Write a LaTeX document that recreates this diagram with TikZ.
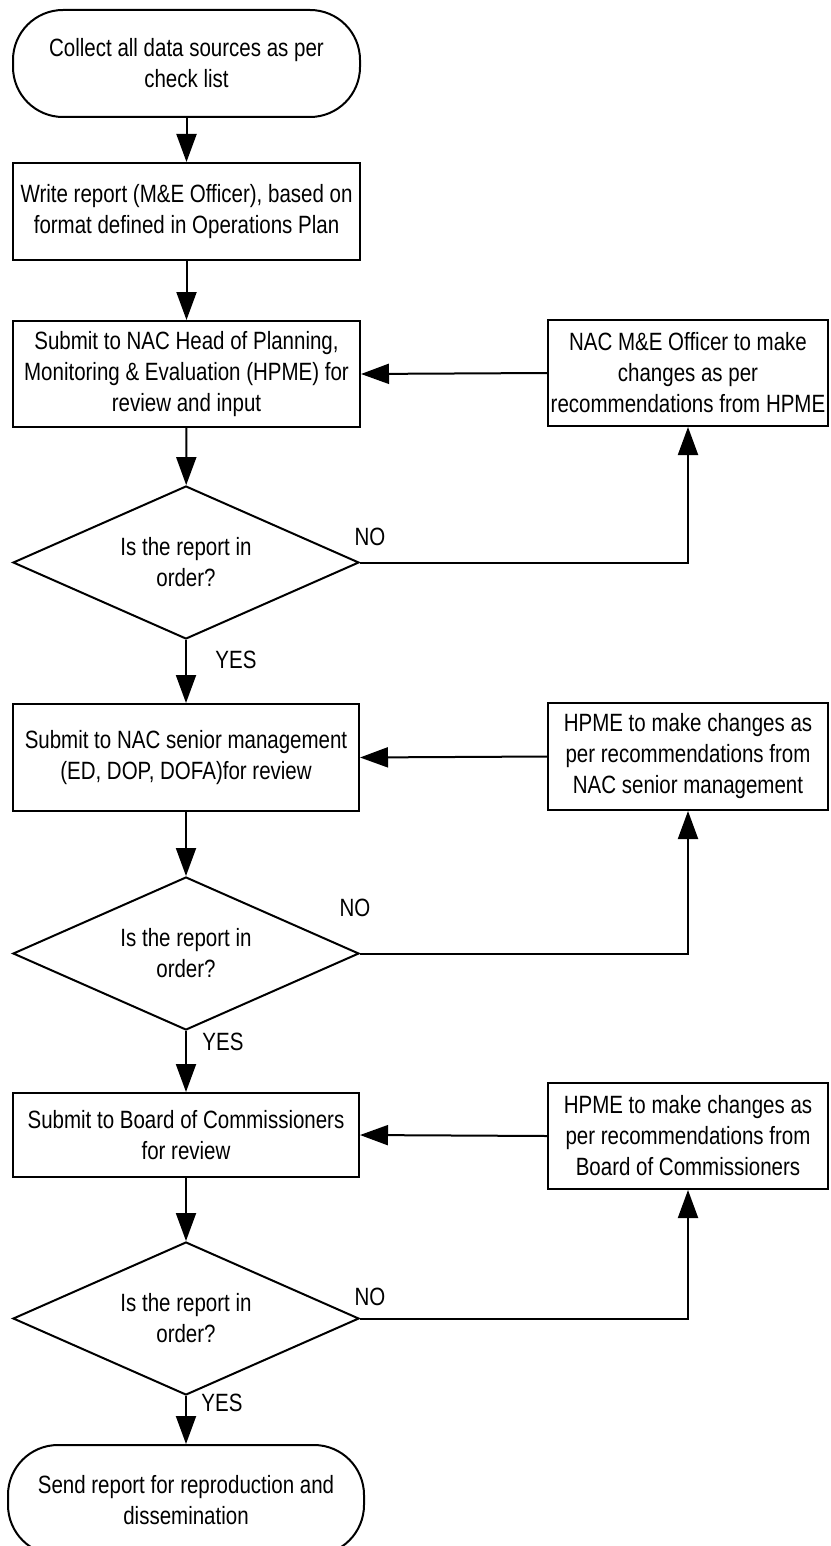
\documentclass[tikz,border=0pt]{standalone}
\usepackage{fontspec}
\setmainfont{Liberation Sans}[FakeStretch=0.82]
\usepackage{xcolor}
\usepackage{tikz}
\usetikzlibrary{arrows.meta,shapes.geometric}
\definecolor{ink}{HTML}{000000}
\definecolor{paper}{HTML}{FFFFFF}
\tikzset{
  txt/.style={font=\fontsize{25}{31}\selectfont, text=ink, align=center},
  box/.style={txt, draw=ink, line width=2pt, fill=paper, rectangle, inner sep=0pt},
  term/.style={box, rounded corners=50pt},
  dec/.style={txt, draw=ink, line width=2pt, fill=paper, diamond, aspect=2.26, inner sep=0pt,
    minimum width=346pt, minimum height=153pt},
  flow/.style={draw=ink, line width=2pt, -{Triangle[length=28pt,width=20pt]}},
  lab/.style={txt},
}

\begin{document}
\begin{tikzpicture}[x=1pt,y=-1pt]
  \path[fill=paper] (0,0) rectangle (830,1546);
  \useasboundingbox (0,0) rectangle (830,1546);

  % main column
  \node[term, minimum width=347pt, minimum height=107pt] (start) at (186.5,63.5)
    {Collect all data sources as per\\check list};
  \node[box, minimum width=347pt, minimum height=97pt] (write) at (186.5,211.5)
    {Write report (M\&E Officer), based on\\format defined in Operations Plan};
  \node[box, minimum width=347pt, minimum height=106pt] (hpme) at (186.5,374)
    {Submit to NAC Head of Planning,\\Monitoring \& Evaluation (HPME) for\\review and input};
  \node[dec] (ok1) at (186,562.5) {Is the report in\\order?};
  \node[box, minimum width=346pt, minimum height=107pt] (senior) at (186,757.5)
    {Submit to NAC senior management\\(ED, DOP, DOFA)for review};
  \node[dec] (ok2) at (186,953.5) {Is the report in\\order?};
  \node[box, minimum width=346pt, minimum height=84pt] (board) at (186,1135)
    {Submit to Board of Commissioners\\for review};
  \node[dec] (ok3) at (186,1318.5) {Is the report in\\order?};
  \node[term, minimum width=356pt, minimum height=110pt] (stop) at (186,1500)
    {Send report for reproduction and\\dissemination};

  % rework boxes
  \node[box, minimum width=280pt, minimum height=106pt] (fix1) at (688,373)
    {NAC M\&E Officer to make\\changes as per\\recommendations from HPME};
  \node[box, minimum width=280pt, minimum height=107pt] (fix2) at (688,756.5)
    {HPME to make changes as\\per recommendations from\\NAC senior management};
  \node[box, minimum width=280pt, minimum height=106pt] (fix3) at (688,1136)
    {HPME to make changes as\\per recommendations from\\Board of Commissioners};

  \draw[flow] (start) -- (write);
  \draw[flow] (write) -- (hpme);
  \draw[flow] (hpme) -- (ok1);
  \draw[flow] (ok1) -- (senior);
  \draw[flow] (senior) -- (ok2);
  \draw[flow] (ok2) -- (board);
  \draw[flow] (board) -- (ok3);
  \draw[flow] (ok3) -- (stop);

  \draw[flow] (ok1.east) -| (fix1.south);
  \draw[flow] (ok2.east) -| (fix2.south);
  \draw[flow] (ok3.east) -| (fix3.south);
  \draw[flow] (fix1.west) -- (hpme.east);
  \draw[flow] (fix2.west) -- (senior.east);
  \draw[flow] (fix3.west) -- (board.east);

  \node[lab] (yes1) at (236,660) {YES};
  \node[lab] (yes2) at (223,1042) {YES};
  \node[lab] (yes3) at (222,1403) {YES};
  \node[lab] (no1) at (370,537) {NO};
  \node[lab] (no2) at (355,908) {NO};
  \node[lab] (no3) at (370,1297) {NO};
\end{tikzpicture}
\end{document}
